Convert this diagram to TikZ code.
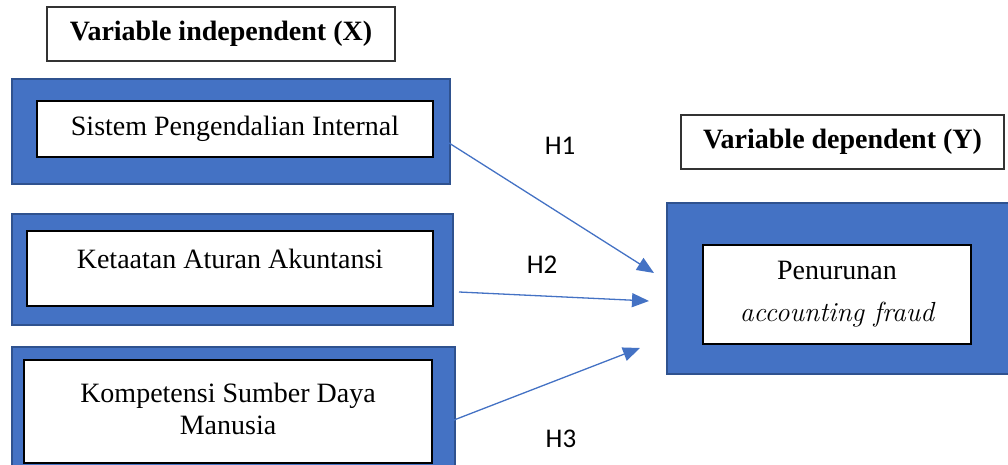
\documentclass[tikz,border=0pt]{standalone}
\usepackage{fontspec}
\setmainfont{Liberation Serif}
\newfontfamily\hfont{Carlito}
\newcommand{\serifit}{\usefont{TU}{lmr}{m}{it}}
\usetikzlibrary{arrows.meta,calc}
\definecolor{boxblue}{HTML}{4472C4}
\definecolor{boxnavy}{HTML}{2F528F}

\begin{document}
\begin{tikzpicture}[x=0.5pt,y=-0.5pt]
\tikzstyle{every node}+=[inner sep=0pt,outer sep=0pt,font=\fontsize{14}{16}\selectfont]
\tikzstyle{outerbox}=[draw=boxnavy,line width=1pt,fill=boxblue]
\tikzstyle{innerbox}=[draw=black,line width=0.6pt,fill=white,align=center]
\tikzstyle{titlebox}=[draw=black!80,line width=0.8pt,fill=white,font=\fontsize{14}{16}\selectfont\bfseries]
\tikzstyle{hyp}=[draw=boxblue,line width=0.65pt,-{Triangle[length=8.5pt,width=7pt]}]
\tikzstyle{hlabel}=[font=\hfont\fontsize{13.5}{16}\selectfont]
\useasboundingbox (0,0) rectangle (1008,465);
\clip (0,0) rectangle (1008,465);
\node[titlebox,minimum width=174pt,minimum height=27pt] (xtitle) at (221,34) {Variable independent (X)};
\node[outerbox,minimum width=219pt,minimum height=52.5pt] (sipo) at (231,131.5) {};
\node[innerbox,minimum width=198pt,minimum height=28pt] (sipi) at (235,129) {Sistem Pengendalian Internal};
\node[outerbox,minimum width=220.5pt,minimum height=55.5pt] (kaao) at (232.5,269.5) {};
\node[innerbox,minimum width=203pt,minimum height=37.5pt,text depth=9.5pt] (kaai) at (230,268.5) {Ketaatan Aturan Akuntansi};
\node[outerbox,minimum width=221.5pt,minimum height=60.5pt] (ksdo) at (233.5,407.5) {};
\node[innerbox,minimum width=204pt,minimum height=51.5pt,font=\fontsize{14}{16}\selectfont,text depth=3pt] (ksdi) at (228,411.5) {Kompetensi Sumber Daya\\Manusia};
\node[titlebox,minimum width=161.5pt,minimum height=27pt] (ytitle) at (842.5,142) {Variable dependent (Y)};
\node[outerbox,minimum width=174pt,minimum height=85.5pt] (pao) at (841,288.5) {};
\node[innerbox,minimum width=134pt,minimum height=49.5pt,font=\fontsize{14}{21}\selectfont] (pai) at (837,294.5) {Penurunan\\{\serifit\fontsize{13.8}{21}\selectfont accounting fraud}};
\draw[hyp] ($(sipo.east)+(-1,11.5)$) -- ($(pao.west)+(-13,-15.5)$);
\draw[hyp] ($(kaao.east)+(6,22.5)$) -- ($(pao.west)+(-18,12.5)$);
\draw[hyp] ($(ksdo.east)+(-1,12.5)$) -- ($(pao.west)+(-27,59.5)$);
\node[hlabel] (h1) at (560,146) {H1};
\node[hlabel] (h2) at (542,265) {H2};
\node[hlabel] (h3) at (561,439) {H3};
\end{tikzpicture}
\end{document}
